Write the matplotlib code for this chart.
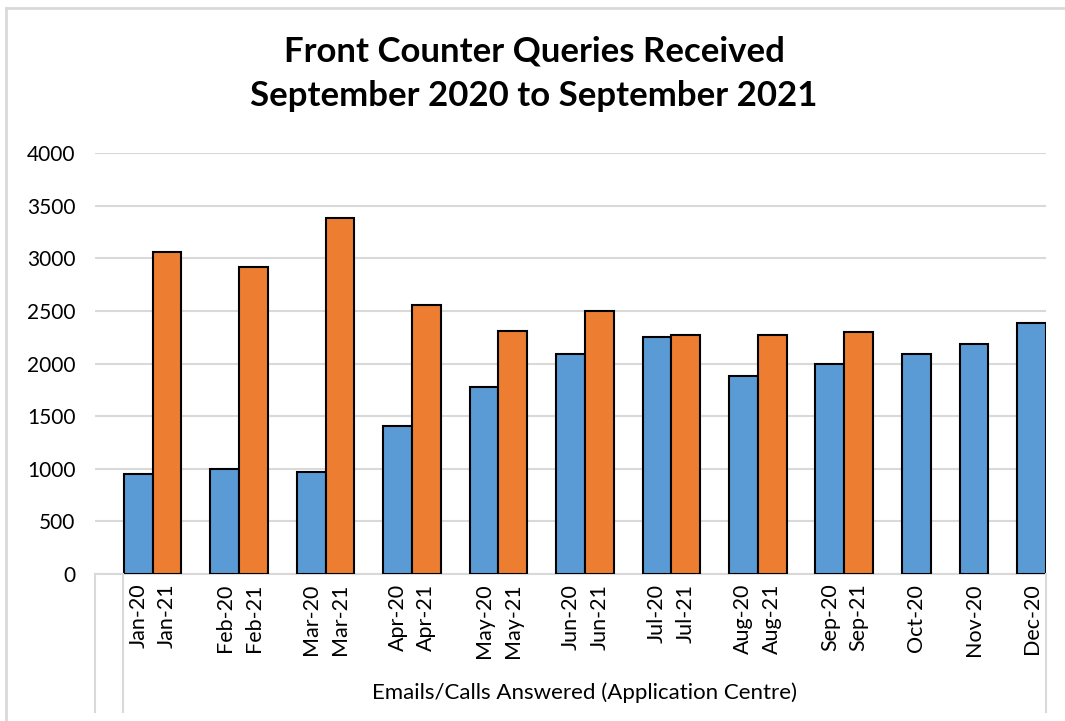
import matplotlib.pyplot as plt
from matplotlib.lines import Line2D

# monthly queries, 2020 and 2021
labels_20 = ["Jan-20", "Feb-20", "Mar-20", "Apr-20", "May-20", "Jun-20",
             "Jul-20", "Aug-20", "Sep-20", "Oct-20", "Nov-20", "Dec-20"]
vals_20 = [950, 1000, 970, 1410, 1775, 2095, 2250, 1880, 2000, 2090, 2190, 2385]
labels_21 = ["Jan-21", "Feb-21", "Mar-21", "Apr-21", "May-21", "Jun-21",
             "Jul-21", "Aug-21", "Sep-21"]
vals_21 = [3055, 2915, 3380, 2555, 2305, 2495, 2270, 2270, 2295]
group_label = "Emails/Calls Answered (Application Centre)"

plt.rcParams["font.family"] = ["Lato", "DejaVu Sans"]

W, H = 1065, 721
fig = plt.figure(figsize=(W / 100, H / 100), dpi=100)
ax = fig.add_axes([95 / W, 1 - 574 / H, (1046 - 95) / W, (574 - 153) / H])

# slot layout: pairs separated by a one-bar gap, single bars after Sep
x20, x21 = [], []
for i in range(len(labels_20)):
    if i < len(labels_21):
        x20.append(1 + 3 * i + 0.5)
        x21.append(2 + 3 * i + 0.5)
    else:
        x20.append(28 + 2 * (i - len(labels_21)) + 0.5)
nslots = int(x20[-1] + 0.5)

ax.bar(x20, vals_20, width=1, color="#5B9BD5", edgecolor="black", linewidth=1.5, zorder=3)
ax.bar(x21, vals_21, width=1, color="#ED7D31", edgecolor="black", linewidth=1.5, zorder=3)

ax.set_xlim(0, nslots)
ax.set_ylim(0, 4000)
ax.set_yticks(range(0, 4001, 500))
ax.yaxis.grid(True, color="#d9d9d9", linewidth=1.5)
ax.set_axisbelow(True)
for s in ["left", "right", "top"]:
    ax.spines[s].set_visible(False)
ax.spines["bottom"].set_color("#d9d9d9")
ax.spines["bottom"].set_linewidth(1.5)
ax.tick_params(axis="y", length=0, pad=14, labelsize=15)

ax.set_xticks(x20 + x21)
ax.set_xticklabels(labels_20 + labels_21, rotation=90, fontsize=15.5)
ax.tick_params(axis="x", length=0, pad=7)

# multi-level category dividers
def fy(py):
    return 1 - py / H

for px in [95, 123, 1046]:
    fig.add_artist(Line2D([px / W, px / W], [fy(574), fy(712)], color="#d9d9d9", linewidth=1.5))
fig.text((123 + 1046) / 2 / W, fy(693), group_label, ha="center", va="center", fontsize=16)

# chart border
fig.add_artist(Line2D([5.5 / W, 5.5 / W], [fy(7.5), 0], color="#d9d9d9", linewidth=2))
fig.add_artist(Line2D([5.5 / W, 1], [fy(7.5), fy(7.5)], color="#d9d9d9", linewidth=2))

fig.text(534 / W, fy(74), "Front Counter Queries Received\nSeptember 2020 to September 2021",
         ha="center", va="center", fontsize=25, fontweight="bold", linespacing=1.5)

fig.savefig("out.png", dpi=100)
